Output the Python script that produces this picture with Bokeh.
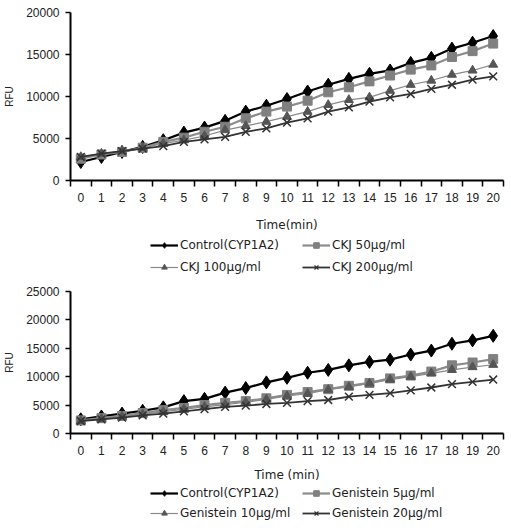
from bokeh.plotting import figure
from bokeh.layouts import column
from bokeh.models import FixedTicker, Legend, LegendItem, ColumnDataSource
from bokeh.embed import file_html
from bokeh.resources import INLINE

minutes = list(range(21))
tick_labels = [str(m) for m in minutes]

# Panel A: CKJ extract
ckj_control = [2200, 2800, 3400, 4000, 4800, 5700, 6300, 7100, 8200, 8900, 9700,
               10600, 11400, 12100, 12700, 13100, 14000, 14600, 15700, 16400, 17200]
ckj_50 = [2600, 3100, 3400, 3900, 4600, 5100, 5800, 6400, 7400, 8200, 8800,
          9500, 10500, 11100, 11800, 12500, 13200, 13700, 14700, 15400, 16300]
ckj_100 = [2800, 3200, 3500, 3900, 4400, 4800, 5300, 6000, 6500, 7000, 7600,
           8200, 9000, 9600, 9900, 10700, 11400, 11900, 12600, 13100, 13800]
ckj_200 = [2800, 3200, 3500, 3800, 4100, 4600, 4900, 5200, 5800, 6200, 6900,
           7400, 8200, 8700, 9400, 9900, 10300, 10900, 11400, 12000, 12400]
ckj_labels = ["Control(CYP1A2)", "CKJ 50μg/ml", "CKJ 100μg/ml", "CKJ 200μg/ml"]

# Panel B: genistein
gen_control = [2500, 3000, 3500, 4000, 4600, 5700, 6100, 7200, 8000, 9000, 9800,
               10700, 11200, 12000, 12600, 13000, 13900, 14600, 15800, 16400, 17200]
gen_5 = [2300, 2700, 3100, 3600, 4100, 4500, 5000, 5400, 5700, 6200, 6800,
         7300, 7800, 8400, 8900, 9700, 10200, 10900, 12000, 12500, 13100]
gen_10 = [2200, 2600, 3000, 3400, 3800, 4300, 4700, 5100, 5500, 6000, 6600,
          7000, 7700, 8200, 8800, 9500, 10000, 10600, 11200, 11700, 12100]
gen_20 = [2200, 2500, 2800, 3200, 3500, 3900, 4300, 4700, 4900, 5200, 5400,
          5700, 5900, 6500, 6800, 7100, 7600, 8100, 8700, 9100, 9500]
gen_labels = ["Control(CYP1A2)", "Genistein 5μg/ml", "Genistein 10μg/ml", "Genistein 20μg/ml"]

TICK_FONT = "Liberation Sans"
TEXT_FONT = "DejaVu Sans"

# (line colour, line width, marker, marker colour, marker size)
styles = [
    ("#000000", 2.2, "diamond", "#000000", 13),
    ("#8c8c8c", 2.2, "square", "#808080", 9),
    ("#8a8a8a", 1.2, "triangle", "#555555", 9),
    ("#333333", 1.8, "x", "#333333", 11),
]

LEFT = 70
# legend entry slots (x from the frame's left edge, row index), two per row
legend_slots = [(80, 0), (232, 0), (80, 1), (232, 1)]


def make_panel(series, ymax, ystep, height, top_border, frame_h, xtitle, title_gap):
    p = figure(width=511, height=height, output_backend="svg", toolbar_location=None,
               x_range=(-0.5, 20.5), y_range=(0, ymax),
               min_border_left=LEFT, min_border_right=8, min_border_top=top_border,
               min_border_bottom=height - top_border - frame_h)
    p.outline_line_color = None
    p.xgrid.visible = False
    p.ygrid.visible = False

    xa = p.xaxis[0]
    xa.ticker = FixedTicker(ticks=minutes, minor_ticks=[m - 0.5 for m in minutes] + [20.5])
    xa.major_label_overrides = {m: s for m, s in zip(minutes, tick_labels)}
    xa.major_tick_line_color = None
    xa.major_tick_out = 5
    xa.minor_tick_out = 6
    xa.minor_tick_in = 0
    xa.minor_tick_line_width = 1.5
    xa.axis_line_width = 2
    xa.major_label_standoff = 6
    xa.major_label_text_font = TICK_FONT
    xa.major_label_text_font_size = "12px"
    xa.major_label_text_color = "#222222"
    xa.axis_label = xtitle
    xa.axis_label_text_font = TEXT_FONT
    xa.axis_label_text_font_style = "normal"
    xa.axis_label_text_font_size = "12px"
    xa.axis_label_text_color = "#222222"
    xa.axis_label_standoff = title_gap

    ya = p.yaxis[0]
    ya.ticker = FixedTicker(ticks=list(range(0, ymax + 1, ystep)))
    ya.minor_tick_line_color = None
    ya.major_tick_out = 5
    ya.major_tick_in = 0
    ya.major_tick_line_width = 1.5
    ya.axis_line_width = 2
    ya.major_label_text_font = TICK_FONT
    ya.major_label_text_font_size = "12px"
    ya.major_label_text_color = "#222222"
    ya.major_label_standoff = 6
    ya.axis_label = "RFU"
    ya.axis_label_text_font = TICK_FONT
    ya.axis_label_text_font_style = "normal"
    ya.axis_label_text_font_size = "10px"
    ya.axis_label_text_color = "#222222"
    ya.axis_label_standoff = 8

    for vals, (lc, lw, mk, mc, ms) in zip(series, styles):
        p.line(minutes, vals, line_color=lc, line_width=lw)
        p.scatter(minutes, vals, marker=mk, size=ms, fill_color=mc,
                  line_color=mc, line_width=1.5 if mk == "x" else 1)
    return p


def make_legend(labels, height, row_centres):
    lg = figure(width=511, height=height, output_backend="svg", toolbar_location=None,
                x_range=(0, 1), y_range=(0, 1), x_axis_type=None, y_axis_type=None,
                min_border_left=LEFT, min_border_right=8, min_border_top=0,
                min_border_bottom=0)
    lg.outline_line_color = None
    lg.xgrid.visible = False
    lg.ygrid.visible = False
    # a single point outside the visible range keeps each legend glyph drawn
    offscreen = ColumnDataSource(data=dict(x=[-5], y=[-5]))
    for lab, (lc, lw, mk, mc, ms), (sx, row) in zip(labels, styles, legend_slots):
        ln = lg.line("x", "y", source=offscreen, line_color=lc, line_width=lw)
        sc = lg.scatter("x", "y", source=offscreen, marker=mk, size=ms * 0.6,
                        fill_color=mc, line_color=mc, line_width=1.2 if mk == "x" else 1)
        bottom = height - row_centres[row] - 7
        leg = Legend(items=[LegendItem(label=lab, renderers=[ln, sc])],
                     location=(sx, bottom), label_text_font=TEXT_FONT,
                     label_text_font_size="12px", label_text_color="#222222",
                     glyph_width=28, glyph_height=14,
                     label_standoff=2, label_height=14, padding=0, margin=0,
                     background_fill_alpha=0, border_line_color=None)
        lg.add_layout(leg, "center")
    return lg


top = make_panel([ckj_control, ckj_50, ckj_100, ckj_200],
                 20000, 5000, 234, 12, 168, "Time(min)", 13)
top_legend = make_legend(ckj_labels, 46, [11, 33])
bottom = make_panel([gen_control, gen_5, gen_10, gen_20],
                    25000, 5000, 204, 11, 142, "Time (min)", 10)
bottom_legend = make_legend(gen_labels, 46, [9, 29])

page = column(top, top_legend, bottom, bottom_legend, spacing=0)
open("out.html", "w").write(file_html(page, INLINE))
